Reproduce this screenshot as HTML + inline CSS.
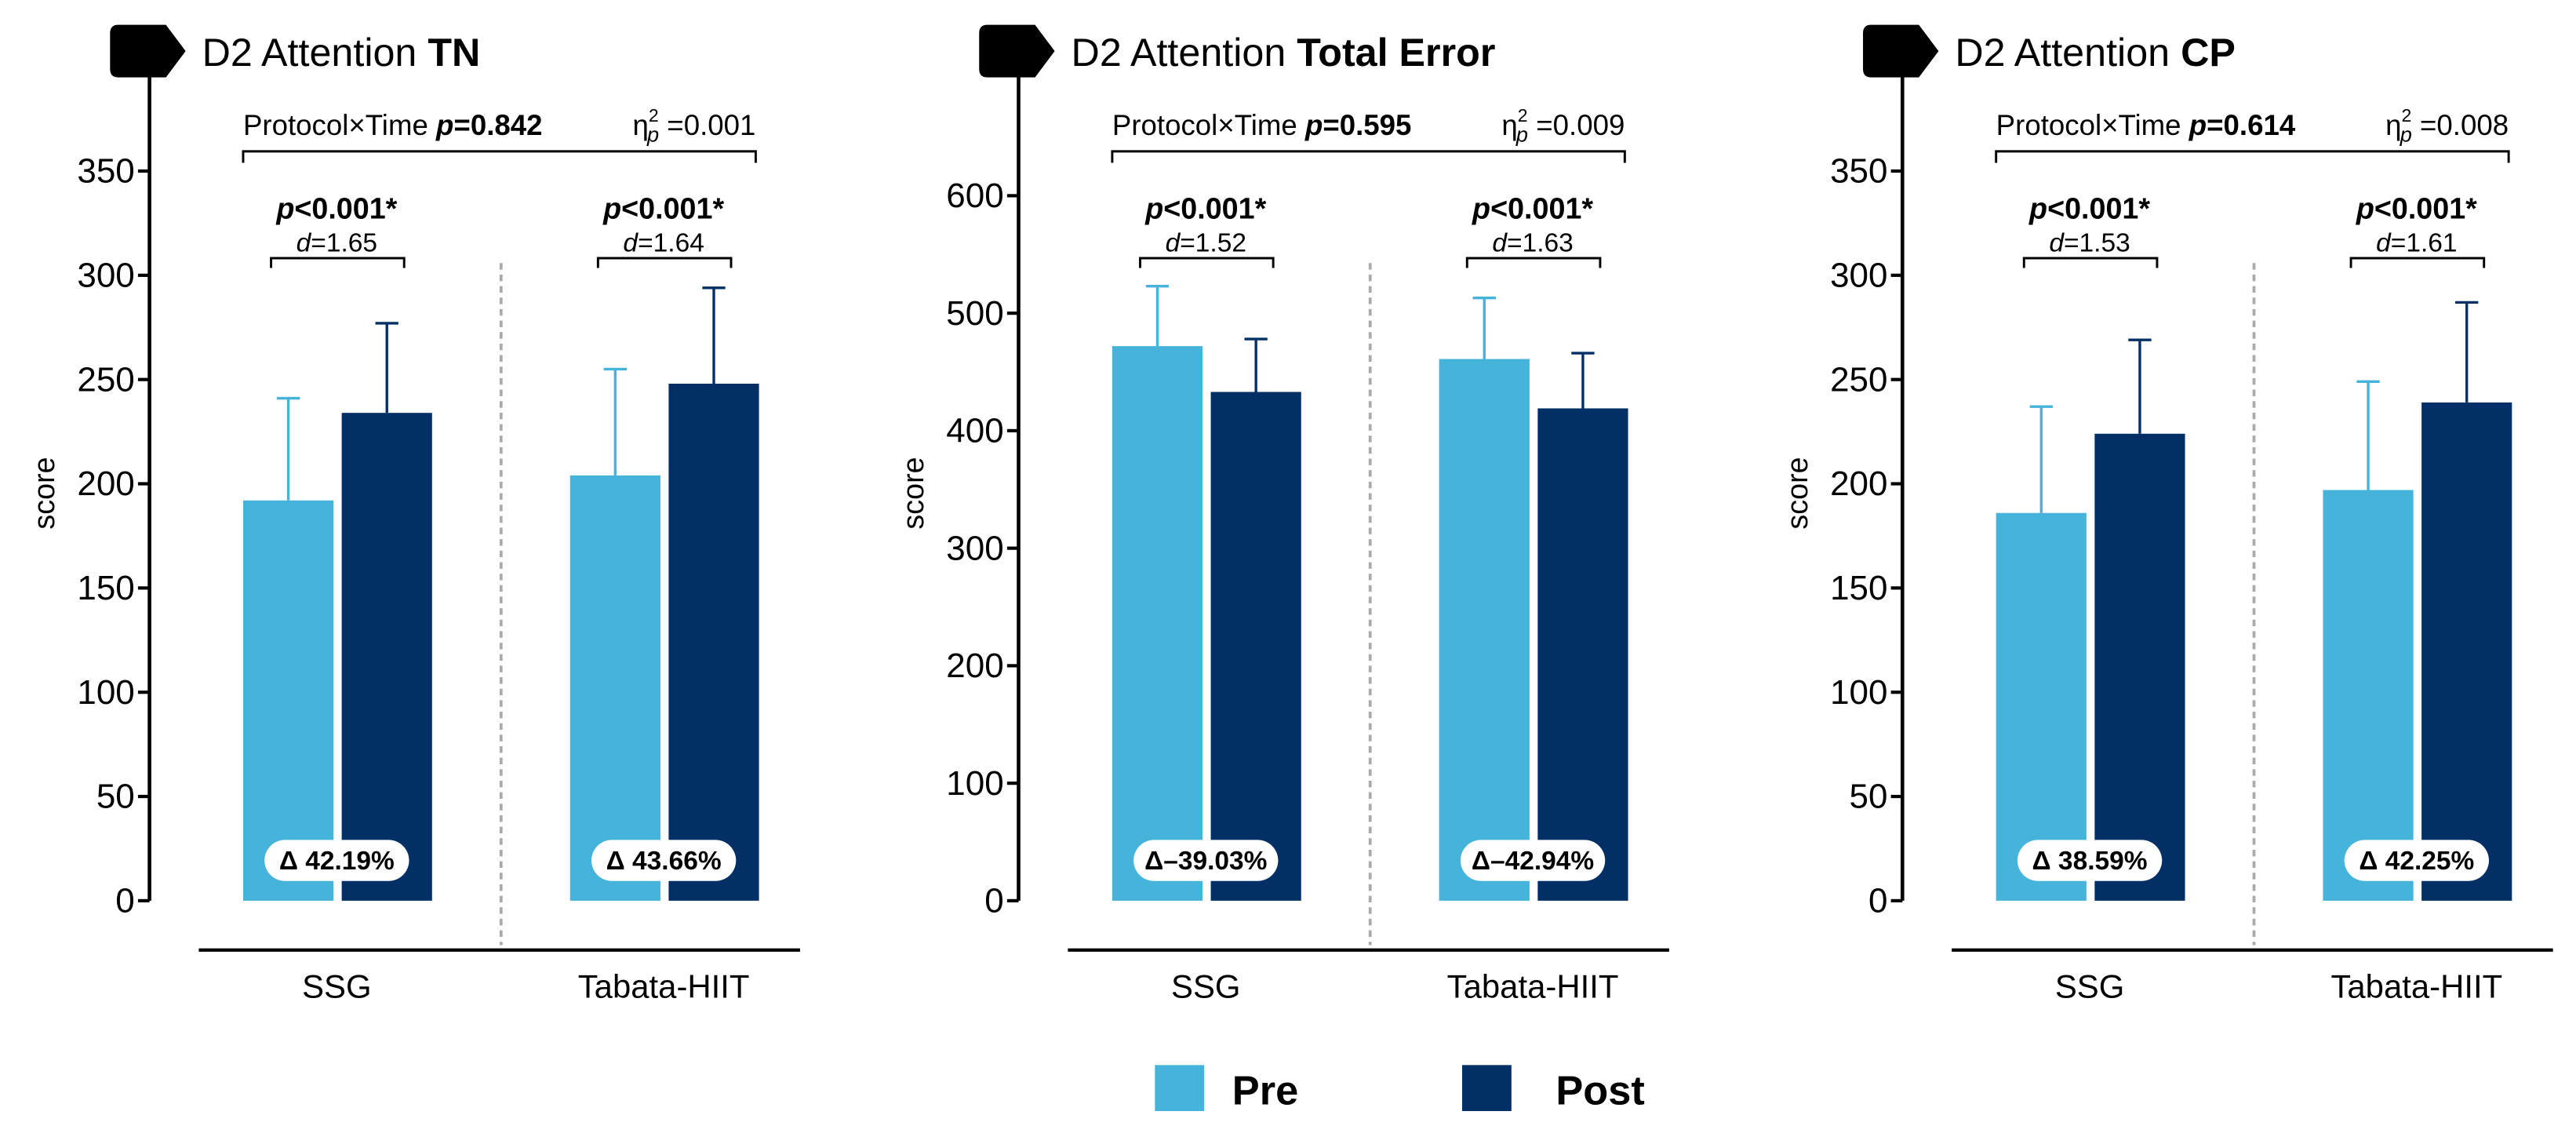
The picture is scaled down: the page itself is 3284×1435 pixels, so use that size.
<!DOCTYPE html>
<html><head><meta charset="utf-8">
<style>
html,body{margin:0;padding:0;background:#fff;}
svg{display:block;font-family:"Liberation Sans",sans-serif;}
</style></head>
<body>
<svg id="chart" width="3284" height="1435" viewBox="0 0 1568 685" xmlns="http://www.w3.org/2000/svg"></svg>
<script>
// ---- data ----
const categories = ["SSG", "Tabata-HIIT"];
const panelTitles = ["TN", "Total Error", "CP"];
const preMeans = [[192, 204], [472, 461], [186, 197]];
const preSD = [[49, 51], [51, 52], [51, 52]];
const postMeans = [[234, 248], [433, 419], [224, 239]];
const postSD = [[43, 46], [45, 47], [45, 48]];
const yMax = [350, 600, 350];
const yStep = [50, 100, 50];
const interactionP = ["0.842", "0.595", "0.614"];
const etaSq = ["0.001", "0.009", "0.008"];
const pairP = [["p<0.001*", "p<0.001*"], ["p<0.001*", "p<0.001*"], ["p<0.001*", "p<0.001*"]];
const effectD = [["1.65", "1.64"], ["1.52", "1.63"], ["1.53", "1.61"]];
const deltas = [["Δ 42.19%", "Δ 43.66%"], ["Δ–39.03%", "Δ–42.94%"], ["Δ 38.59%", "Δ 42.25%"]];

const PRE = "#45b3da", POST = "#023066";
const svg = document.getElementById('chart');
const NS = "http://www.w3.org/2000/svg";
function mk(tag, attrs, parent, text) {
  const e = document.createElementNS(NS, tag);
  for (const k in attrs) e.setAttribute(k, attrs[k]);
  if (text !== undefined) e.textContent = text;
  (parent || svg).appendChild(e);
  return e;
}

const offsets = [0, 529, 1067];
panelTitles.forEach((title, pi) => {
  const ox = offsets[pi];
  const g = mk('g', {});
  
  
  const y0 = 548, yTop = 104 + (pi === 1 ? 15 : 0);
  const topVal = pi === 1 ? 600 : 350;
  const yScale = v => y0 - (v / topVal) * (y0 - yTop);
  const axX = 91 + ox;

  const tag = mk('path', {d: `M${67+ox} 20 Q${67+ox} 15 ${72+ox} 15 L${101+ox} 15 L${113+ox} 31 L${101+ox} 47 L${72+ox} 47 Q${67+ox} 47 ${67+ox} 42 Z`, fill: '#000'}, g);
  
  
  const tt = mk('text', {x: 123 + ox, y: 40, 'font-size': 24}, g);
  
  
  mk('tspan', {}, tt, 'D2 Attention ');
  mk('tspan', {'font-weight': 'bold'}, tt, title);

  const ya = mk('line', {x1: axX, y1: 40, x2: axX, y2: y0, stroke: '#000', 'stroke-width': 2.2}, g);
  
  
  for (let v = 0; v <= yMax[pi]; v += yStep[pi]) {
    const y = yScale(v);
    mk('line', {x1: axX - 7, y1: y, x2: axX, y2: y, stroke: '#000', 'stroke-width': 2}, g);
    const tl = mk('text', {x: axX - 9, y: y + 7, 'font-size': 21, 'text-anchor': 'end'}, g, String(v));
    
    
  }
  const yt = mk('text', {x: 0, y: 0, 'font-size': 18, 'text-anchor': 'middle', transform: `translate(${33+ox},${300}) rotate(-90)`}, g, 'score');
  
  

  const xa = mk('line', {x1: 121 + ox, y1: 578, x2: 487 + ox, y2: 578, stroke: '#000', 'stroke-width': 2}, g);
  
  
  const dv = mk('line', {x1: 305 + ox, y1: 160, x2: 305 + ox, y2: 575, stroke: '#aaa', 'stroke-width': 1.8, 'stroke-dasharray': '4 3'}, g);
  
  

  const it = mk('text', {x: 148 + ox, y: 82, 'font-size': 17.5}, g);
  
  
  mk('tspan', {}, it, 'Protocol×Time ');
  mk('tspan', {'font-weight': 'bold', 'font-style': 'italic'}, it, 'p');
  mk('tspan', {'font-weight': 'bold'}, it, '=' + interactionP[pi]);
  const et = mk('text', {x: 460 + ox, y: 82, 'font-size': 17.5, 'text-anchor': 'end'}, g);
  
  
  mk('tspan', {}, et, 'η');
  mk('tspan', {'font-size': 11, dy: -8}, et, '2');
  mk('tspan', {'font-size': 13, 'font-style': 'italic', dx: -7, dy: 12}, et, 'p');
  mk('tspan', {dy: -4}, et, ' =' + etaSq[pi]);
  mk('path', {d: `M${148+ox} 99 V92 H${460+ox} V99`, fill: 'none', stroke: '#000', 'stroke-width': 1.4}, g);

  categories.forEach((cat, ci) => {
    const bx = 148 + ox + ci * 199;
    const bw = 55;
    const bars = [[preMeans[pi][ci], preSD[pi][ci], PRE, bx, 'pre'], [postMeans[pi][ci], postSD[pi][ci], POST, bx + 60, 'post']];
    bars.forEach(([m, sd, col, x, nm]) => {
      const r = mk('rect', {x: x, y: yScale(m), width: bw, height: y0 - yScale(m), fill: col}, g);
      
      
      const cx = x + bw / 2, ty = yScale(m + sd);
      const eb = mk('path', {d: `M${cx} ${yScale(m)} V${ty} M${cx-7} ${ty} H${cx+7}`, stroke: col, 'stroke-width': 1.6, fill: 'none'}, g);
      
      
    });
    const cx = bx + 57;
    const cl = mk('text', {x: cx, y: 607, 'font-size': 20, 'text-anchor': 'middle'}, g, cat);
    
    
    const pt = mk('text', {x: cx, y: 133, 'font-size': 18, 'font-weight': 'bold', 'text-anchor': 'middle'}, g);
    
    
    mk('tspan', {'font-style': 'italic'}, pt, pairP[pi][ci].slice(0, 1));
    mk('tspan', {}, pt, pairP[pi][ci].slice(1));
    const dt = mk('text', {x: cx, y: 153, 'font-size': 16, 'text-anchor': 'middle'}, g);
    
    
    mk('tspan', {'font-style': 'italic'}, dt, 'd');
    mk('tspan', {}, dt, '=' + effectD[pi][ci]);
    mk('path', {d: `M${cx-40} 163 V157 H${cx+41} V163`, fill: 'none', stroke: '#000', 'stroke-width': 1.4}, g);
    const pill = mk('rect', {x: cx - 44, y: 511, width: 88, height: 25, rx: 12.5, fill: '#fff'}, g);
    
    
    const dl = mk('text', {x: cx, y: 529, 'font-size': 16, 'font-weight': 'bold', 'text-anchor': 'middle'}, g, deltas[pi][ci]);
    
    
  });
});

const lg = mk('g', {});


const l1 = mk('rect', {x: 703, y: 648, width: 30, height: 28, fill: PRE}, lg);


const t1 = mk('text', {x: 750, y: 672, 'font-size': 25, 'font-weight': 'bold'}, lg, 'Pre');


const l2 = mk('rect', {x: 890, y: 648, width: 30, height: 28, fill: POST}, lg);


const t2 = mk('text', {x: 947, y: 672, 'font-size': 25, 'font-weight': 'bold'}, lg, 'Post');


</script>
</body></html>
